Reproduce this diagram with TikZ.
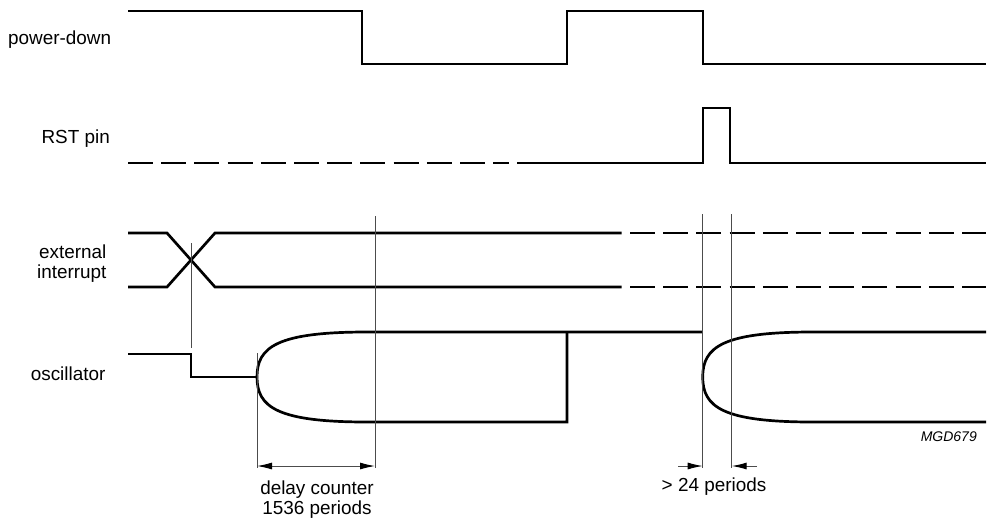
\documentclass[tikz,border=0pt]{standalone}
\usepackage{fontspec}
\setmainfont{Liberation Sans}
\usetikzlibrary{arrows.meta}
\begin{document}
\begin{tikzpicture}[x=1pt,y=-1pt,
  sig/.style={line width=2.7pt, line cap=butt, line join=miter},
  dsig/.style={sig, dash pattern=on 25pt off 8.2pt},
  guide/.style={line width=1pt, black!70},
  dimhead/.tip={Latex[length=15pt,width=7pt,black]},
  dimarrow/.style={line width=1pt, black!70, -dimhead},
  lbl/.style={inner sep=0pt, font=\fontsize{18.9}{21}\selectfont},
  tag/.style={inner sep=0pt, font=\fontsize{14}{16}\selectfont\itshape}]
\useasboundingbox (0,0) rectangle (987,520);

% labels
\node[lbl, anchor=base east] (lpd) at (111.3,44.5) {power-down};
\node[lbl, anchor=base east] (lrst) at (110,143.5) {RST pin};
\node[lbl, anchor=base east] (lext1) at (106.6,258.5) {external};
\node[lbl, anchor=base east] (lext2) at (106.6,278) {interrupt};
\node[lbl, anchor=base east] (losc) at (105.6,380.7) {oscillator};

% power-down
\draw[sig] (128,11) -- (362,11) -- (362,64) -- (567,64) -- (567,11) -- (703,11) -- (703,64) -- (986,64);

% RST pin
\draw[dsig] (128,163) -- (509,163);
\draw[sig] (517.3,163) -- (703,163) -- (703,108) -- (730,108) -- (730,163) -- (986,163);

% external interrupt
\draw[sig] (128,233) -- (167,233) -- (215,287) -- (621.7,287);
\draw[sig] (128,287) -- (167,287) -- (215,233) -- (621.7,233);
\draw[dsig] (630,233) -- (986,233);
\draw[dsig] (630,287) -- (986,287);

% oscillator
\draw[sig] (128,354) -- (191,354) -- (191,377) -- (257,377);
\draw[sig] (257,377) .. controls (257,347) and (277,332) .. (367,332) -- (702.7,332);
\draw[sig] (257,377) .. controls (257,407) and (277,422) .. (367,422) -- (567,422) -- (567,332);
\draw[sig] (702.7,377) .. controls (702.7,347) and (722.7,332) .. (812.7,332) -- (986,332);
\draw[sig] (702.7,377) .. controls (702.7,407) and (722.7,422) .. (812.7,422) -- (986,422);

% guide lines
\coordinate (g1t) at (191,243);   \coordinate (g1b) at (191,348);
\coordinate (g2t) at (257,353);   \coordinate (g2b) at (257,468);
\coordinate (g3t) at (375,216);   \coordinate (g3b) at (375,468);
\coordinate (g4t) at (702.7,214); \coordinate (g4b) at (702.7,468);
\coordinate (g5t) at (731.7,214); \coordinate (g5b) at (731.7,468);
\draw[guide] (g1t) -- (g1b);
\draw[guide] (g2t) -- (g2b);
\draw[guide] (g3t) -- (g3b);
\draw[guide] (g4t) -- (g4b);
\draw[guide] (g5t) -- (g5b);

% dimension arrows
\coordinate (d1l) at (257,466); \coordinate (d1r) at (375,466);
\draw[dimarrow, dimhead-dimhead] (d1l) -- (d1r);
\coordinate (d2a) at (678,466); \coordinate (d2b) at (702.7,466);
\coordinate (d2c) at (757,466); \coordinate (d2d) at (731.7,466);
\draw[dimarrow] (d2a) -- (d2b);
\draw[dimarrow] (d2c) -- (d2d);

\node[lbl, anchor=base] (dc1) at (317,494) {delay counter};
\node[lbl, anchor=base] (dc2) at (317,514.5) {1536 periods};
\node[lbl, anchor=base] (p24) at (714,491.7) {> 24 periods};
\node[tag, anchor=base east] (mgd) at (977,441.7) {MGD679};
\end{tikzpicture}
\end{document}
